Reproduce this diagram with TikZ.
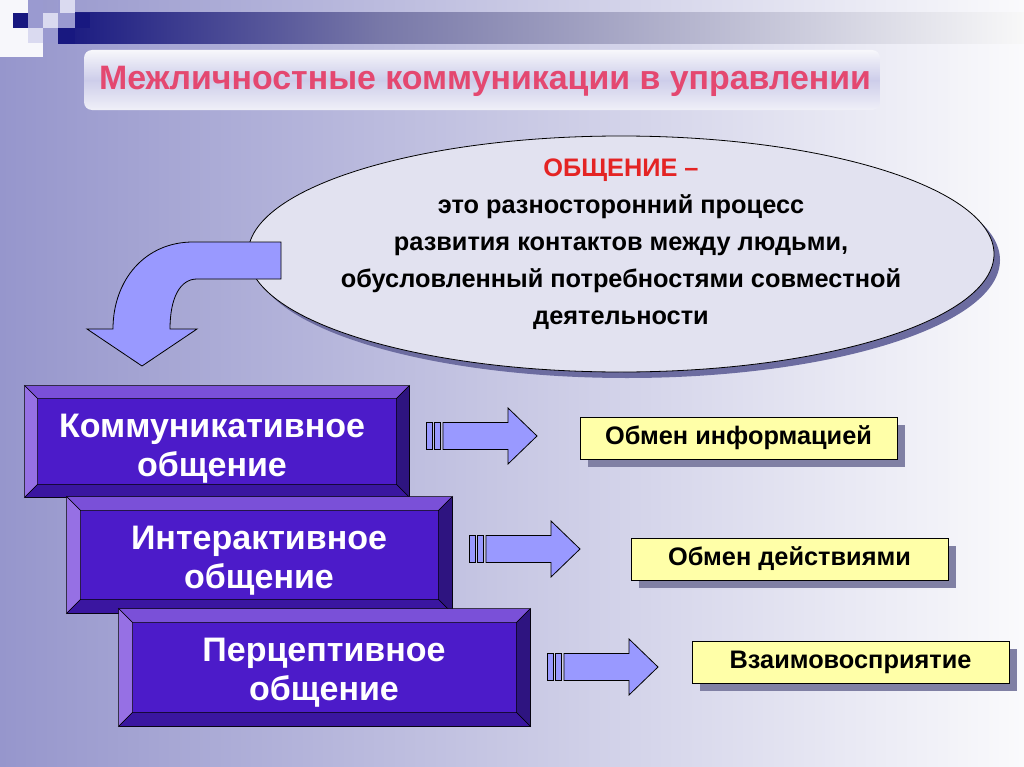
\documentclass[tikz,border=0pt]{standalone}
\usepackage{fontspec}
\setmainfont{Liberation Sans}
\usetikzlibrary{shapes.geometric,shadows}
\definecolor{bgL}{RGB}{150,150,204}
\definecolor{bgR}{RGB}{250,250,252}
\definecolor{navy}{RGB}{24,24,128}
\definecolor{bandmid}{RGB}{120,120,168}
\definecolor{bandR}{RGB}{248,248,248}
\definecolor{lav}{RGB}{154,154,208}
\definecolor{lite}{RGB}{218,218,240}
\definecolor{titlered}{RGB}{228,72,112}
\definecolor{ellfill}{RGB}{226,226,240}
\definecolor{ellshadow}{RGB}{108,108,160}
\definecolor{arrowfill}{RGB}{153,153,255}
\definecolor{face}{RGB}{76,27,201}
\definecolor{bevT}{RGB}{122,80,216}
\definecolor{bevL}{RGB}{150,112,228}
\definecolor{bevR}{RGB}{46,20,128}
\definecolor{bevB}{RGB}{58,22,160}
\definecolor{yel}{RGB}{255,255,168}
\definecolor{yshadow}{RGB}{128,128,164}
\definecolor{defred}{RGB}{228,36,36}
\tikzset{
  arrowline/.style={draw=black, fill=arrowfill, line width=0.6pt, line join=miter},
  purplebox/.style={draw=black, fill=face, line width=0.6pt, inner sep=0pt},
  boxtext/.style={text=white, align=center, font=\bfseries\fontsize{25.5}{29}\selectfont},
  yelbox/.style={draw=black, fill=yel, line width=0.6pt, inner sep=0pt, minimum width=237.75pt, minimum height=31.5pt,
     font=\bfseries\fontsize{19}{22}\selectfont,
     drop shadow={shadow xshift=6pt, shadow yshift=-6pt, fill=yshadow, opacity=1}},
  bevline/.style={draw=black, line width=0.5pt, line join=miter},
}
\newcommand\bevelsides[2]{%
  \filldraw[bevT,bevline] (#1.north west) -- (#1.north east) -- ([shift={(-#2,#2)}]#1.north east) -- ([shift={(#2,#2)}]#1.north west) -- cycle;
  \filldraw[bevL,bevline] (#1.north west) -- ([shift={(#2,#2)}]#1.north west) -- ([shift={(#2,-#2)}]#1.south west) -- (#1.south west) -- cycle;
  \filldraw[bevR,bevline] (#1.north east) -- ([shift={(-#2,#2)}]#1.north east) -- ([shift={(-#2,-#2)}]#1.south east) -- (#1.south east) -- cycle;
  \filldraw[bevB,bevline] (#1.south west) -- ([shift={(#2,-#2)}]#1.south west) -- ([shift={(-#2,-#2)}]#1.south east) -- (#1.south east) -- cycle;
}
\newcommand\blockarrow[1]{%
  \begin{scope}[shift={(#1)}]
    \draw[arrowline] (0,-13.5) rectangle (6,13.5);
    \draw[arrowline] (8,-13.5) rectangle (14,13.5);
    \draw[arrowline] (17,-13.5) -- (82,-13.5) -- (82,-28) -- (111,0) -- (82,28) -- (82,13.5) -- (17,13.5) -- cycle;
  \end{scope}}
\begin{document}
\begin{tikzpicture}[x=0.75pt,y=-0.75pt]
\useasboundingbox (0,0) rectangle (1024,767);
% background
\shade[left color=bgL, right color=bgR] (0,0) rectangle (1024,767);
% top band
\shade[left color=navy, right color=bandmid] (58,13) rectangle (380,44);
\shade[left color=bandmid, right color=bandR] (379.5,13) rectangle (1024,44);
% decorative squares
\fill[white!92!lav] (0,0) rectangle (28,57);
\fill[white!92!lav] (28,28) rectangle (43,57);
\fill[navy] (13,13) rectangle (28,28);
\fill[lav] (28,0) rectangle (43,28);
\fill[lav] (58,0) rectangle (75,13);
\fill[lite] (60,0) rectangle (75,13);
\fill[lite] (43,13) rectangle (58,28);
\fill[lav] (58,13) rectangle (75,28);
\fill[navy] (75,13) rectangle (90,28);
\fill[lite] (28,28) rectangle (43,43);
\fill[lav] (43,28) rectangle (58,43);
\fill[navy] (58,28) rectangle (75,44);
% title
\node[rounded corners=6pt, minimum width=597pt, minimum height=45pt, inner sep=0pt,
      top color=white!92!lav, bottom color=white!85!lav, middle color=lite!80!lav]
  (title) at (482,80) {};
\node[text=titlered, font=\bfseries\fontsize{25.4}{30}\selectfont] (titletext) at (485,81)
  {Межличностные коммуникации в управлении};
% ellipse
\fill[ellshadow] (627,260) ellipse [x radius=373, y radius=118];
\node[ellipse, draw=black, fill=ellfill, line width=0.6pt, minimum width=559.5pt, minimum height=177pt, inner sep=0pt]
  (ell) at (621,254) {};
\node[align=center, font=\bfseries\fontsize{19}{27.75}\selectfont] (def) at (621,244)
  {\textcolor{defred}{ОБЩЕНИЕ –}\\это разносторонний процесс\\развития контактов между людьми,\\обусловленный потребностями совместной\\деятельности};
% curved arrow
\draw[arrowline] (281,242) -- (193,242) .. controls (145,242) and (113,280) .. (113,329)
  -- (87,329) -- (142,366) -- (197,329) -- (170,329)
  .. controls (170,298) and (180,279) .. (197,279) -- (281,279) -- cycle;
% purple boxes
\node[purplebox, minimum width=288pt, minimum height=83.25pt] (k1) at (217,441.5) {};
\bevelsides{k1}{13}
\node[boxtext] (k1t) at (212,449) {Коммуникативное\\общение};
\node[purplebox, minimum width=288.75pt, minimum height=87pt] (k2) at (259.5,555) {};
\bevelsides{k2}{14}
\node[boxtext] (k2t) at (259,561) {Интерактивное\\общение};
\node[purplebox, minimum width=308.25pt, minimum height=87.75pt] (k3) at (324.5,667.5) {};
\bevelsides{k3}{14}
\node[boxtext] (k3t) at (324,673) {Перцептивное\\общение};
% block arrows
\coordinate (a1) at (426,436);
\coordinate (a2) at (469,549);
\coordinate (a3) at (547,667);
\blockarrow{a1}
\blockarrow{a2}
\blockarrow{a3}
% yellow boxes
\node[yelbox] (y1) at (738.5,438) {Обмен информацией};
\node[yelbox] (y2) at (789.5,559) {Обмен действиями};
\node[yelbox] (y3) at (850.5,662) {Взаимовосприятие};
\end{tikzpicture}
\end{document}
